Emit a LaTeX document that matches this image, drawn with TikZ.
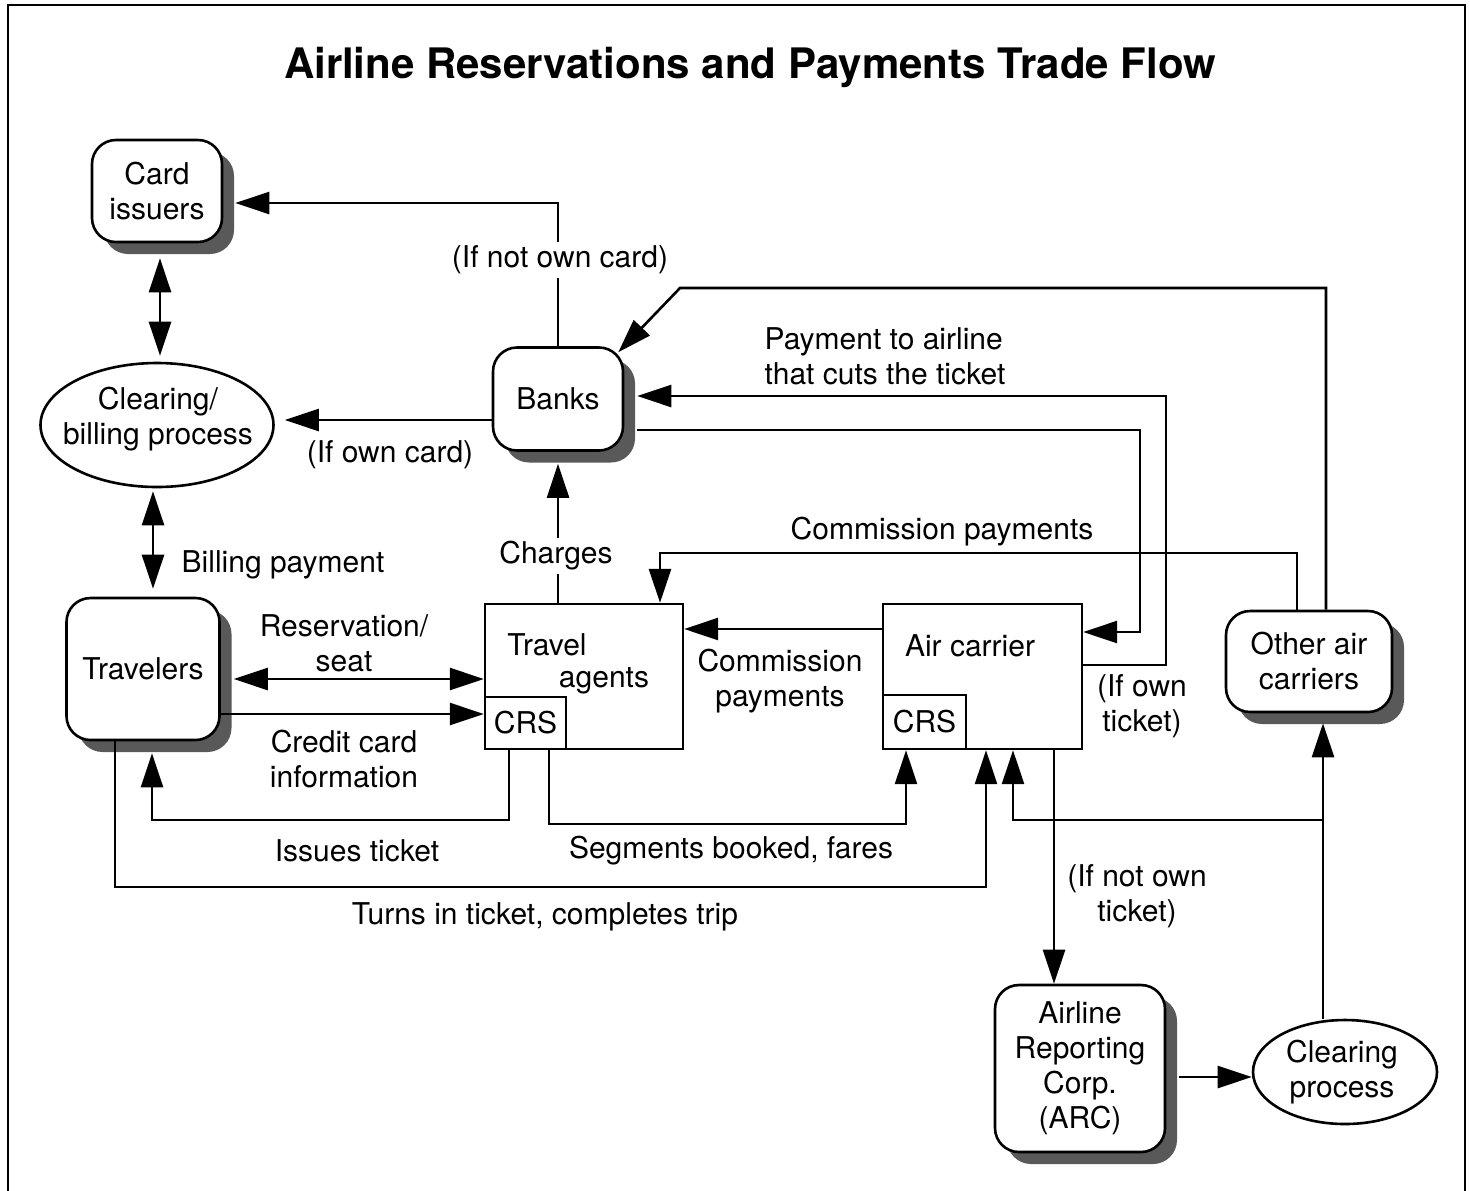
\documentclass[tikz,border=0pt]{standalone}
\usepackage{fontspec}
\setmainfont{TeX Gyre Heros}
\usetikzlibrary{arrows.meta,shapes.geometric,shadows}
\begin{document}
\begin{tikzpicture}[x=0.5pt,y=-0.5pt,
  txt/.style={font=\fontsize{15}{17.5}\selectfont,inner sep=1pt,align=center},
  conn/.style={line width=1.3pt},
  arr/.style={conn,-{Triangle[length=17pt,width=11pt]}},
  darr/.style={conn,{Triangle[length=17pt,width=11pt]}-{Triangle[length=17pt,width=11pt]}},
  shad/.style={drop shadow={shadow xshift=6pt,shadow yshift=-6pt,fill=black!65,opacity=1}},
  rbox/.style={txt,draw,line width=1.3pt,rounded corners=12pt,fill=white,inner sep=0pt,shad},
  sbox/.style={draw,line width=1.2pt,fill=white,inner sep=0pt},
  ell/.style={draw,ellipse,line width=1.3pt,fill=white,inner sep=0pt},
  lbl/.style={txt},
  wlbl/.style={txt,fill=white,inner sep=2pt}
]
\useasboundingbox (0,0) rectangle (1470,1190);
\draw[line width=1pt] (8,1200) -- (8,5) -- (1465,5) -- (1465,1200);

\node[font=\fontsize{21}{25}\selectfont\bfseries] (title) at (750,67) {Airline Reservations and Payments Trade Flow};

% nodes
\node[rbox,minimum width=65pt,minimum height=51pt] (ci) at (157,191) {Card\\issuers};
\node[ell,minimum width=116.5pt,minimum height=62pt] (cb) at (157,425) {};
\node[txt] (cbt) at (158,419) {Clearing/\\billing process};
\node[rbox,minimum width=76.5pt,minimum height=71pt] (tr) at (143,669) {Travelers};
\node[rbox,minimum width=65pt,minimum height=51.5pt] (bk) at (558,399) {Banks};
\node[sbox,minimum width=99pt,minimum height=72.5pt] (ta) at (584,676.5) {};
\node[sbox,minimum width=40.5pt,minimum height=26pt,txt,inner sep=0pt] (tacrs) at (525.5,723) {CRS};
\node[txt] (tat1) at (547,645) {Travel};
\node[txt] (tat2) at (604,681) {agents};
\node[sbox,minimum width=99.5pt,minimum height=72.5pt] (ac) at (982.5,676.5) {};
\node[sbox,minimum width=41.5pt,minimum height=27pt,txt,inner sep=0pt] (accrs) at (924.5,722) {CRS};
\node[txt] (act) at (970,646) {Air carrier};
\node[rbox,minimum width=83pt,minimum height=50.5pt] (oac) at (1309,661.5) {Other air\\carriers};
\node[rbox,minimum width=85pt,minimum height=83.5pt] (arc) at (1080,1068.5) {Airline\\Reporting\\Corp.\\(ARC)};
\node[ell,minimum width=92pt,minimum height=52pt] (cp) at (1345,1072) {};
\node[txt] (cpt) at (1342,1072) {Clearing\\process};

% helper coordinates
\coordinate (c153) at (153,0);
\coordinate (pa) at (680,288);
\coordinate (c1166) at (1166,396);
\coordinate (c1140) at (1140,430);
\coordinate (cm) at (660,553);
\coordinate (c152) at (152,820);
\coordinate (c906) at (906,824);
\coordinate (c986) at (986,887);
\coordinate (c1323) at (1323,820);
\coordinate (c1013) at (1013,820);
\coordinate (c1054) at (1054,0);

% connectors
\draw[arr,shorten >=6pt] (bk.north) |- ([yshift=-6pt]ci.east);
\draw[darr,shorten <=7.5pt,shorten >=3pt] ([xshift=1.5pt]ci.south) -- ([xshift=1.5pt]ci.south |- cb.north);
\draw[darr,shorten <=1.5pt,shorten >=4pt] (c153 |- cb.south) -- (c153 |- tr.north);
\draw[arr,shorten >=5pt] ([yshift=-10.5pt]bk.west) -- ([yshift=-10.5pt]bk.west -| cb.east);
\draw[arr,shorten >=6pt] (bk.south |- ta.north) -- (bk.south);
\draw[arr] ([xshift=8.5pt]oac.north) |- (pa) -- ([xshift=-3pt,yshift=-3pt]bk.north east);
\draw[arr,shorten >=6.5pt] ([yshift=5.75pt]ac.east) -| (c1166) -- (c1166 -| bk.east);
\draw[arr,shorten <=6.5pt] ([yshift=-15.5pt]bk.east) -- (c1140) |- ([yshift=22.25pt]ac.east);
\draw[arr] ([xshift=-6pt]oac.north) |- (cm) -- (cm |- ta.north);
\draw[arr] ([yshift=23.75pt]ac.west) -- ([yshift=23.75pt]ac.west -| ta.east);
\draw[darr,shorten <=6.5pt] ([yshift=-5pt]tr.east) -- ([yshift=-5pt]tr.east -| ta.west);
\draw[arr] ([yshift=-22.5pt]tr.east) -- ([yshift=-22.5pt]tr.east -| tacrs.west);
\draw[arr,shorten >=6pt] ([xshift=-8.25pt]tacrs.south) |- (c152) -- (c152 |- tr.south);
\draw[arr] ([xshift=-17.5pt]ta.south) |- (c906) -- (c906 |- accrs.south);
\draw[arr] ([xshift=-14pt]tr.south) |- (c986) -- (c986 |- ac.south);
\draw[arr,shorten >=5pt] (c1323 |- cp.north) -- (c1323 |- oac.south);
\draw[arr] (c1323) -- (c1013) -- (c1013 |- ac.south);
\draw[arr] (c1054 |- ac.south) -- (c1054 |- arc.north);
\draw[arr,shorten <=6.5pt] ([yshift=-4.25pt]arc.east) -- ([yshift=-4.25pt]arc.east -| cp.west);

% labels
\node[wlbl] (l1) at (560,260) {(If not own card)};
\node[lbl] (l2) at (390,455) {(If own card)};
\node[lbl,align=left] (l3) at (885,356) {Payment to airline\\that cuts the ticket};
\node[wlbl] (l4) at (556,556) {Charges};
\node[lbl] (l5) at (942,532) {Commission payments};
\node[lbl] (l6) at (283,565) {Billing payment};
\node[lbl] (l7) at (344,643) {Reservation/\\seat};
\node[lbl] (l8) at (344,759) {Credit card\\information};
\node[lbl] (l9) at (780,681) {Commission\\payments};
\node[lbl] (l10) at (1142,706) {(If own\\ticket)};
\node[lbl] (l11) at (357,851) {Issues ticket};
\node[lbl] (l12) at (731,851) {Segments booked, fares};
\node[lbl] (l13) at (545,917) {Turns in ticket, completes trip};
\node[lbl] (l14) at (1137,896) {(If not own\\ticket)};
\end{tikzpicture}
\end{document}
